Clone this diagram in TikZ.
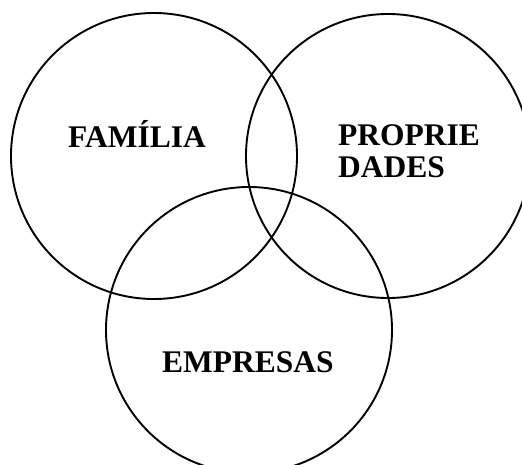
\documentclass[tikz,border=0pt]{standalone}
\usepackage{fontspec}
\setmainfont{Liberation Serif}
\begin{document}
\begin{tikzpicture}[x=1pt,y=-1pt,
  ring/.style={draw=black,line width=1.9pt},
  lbl/.style={font=\bfseries\fontsize{31.5}{32}\selectfont,inner sep=0pt,anchor=base west,align=left}]
\useasboundingbox (0,0) rectangle (522,464);
\draw[ring] (154,156) circle[radius=143];
\draw[ring] (388,156) circle[radius=142];
\draw[ring] (249,330) circle[radius=143];
\node[lbl] (fam) at (68,147) {FAMÍLIA};
\node[lbl] (prop) at (338,177) {PROPRIE\\DADES};
\node[lbl] (emp) at (162,372) {EMPRESAS};
\end{tikzpicture}
\end{document}
